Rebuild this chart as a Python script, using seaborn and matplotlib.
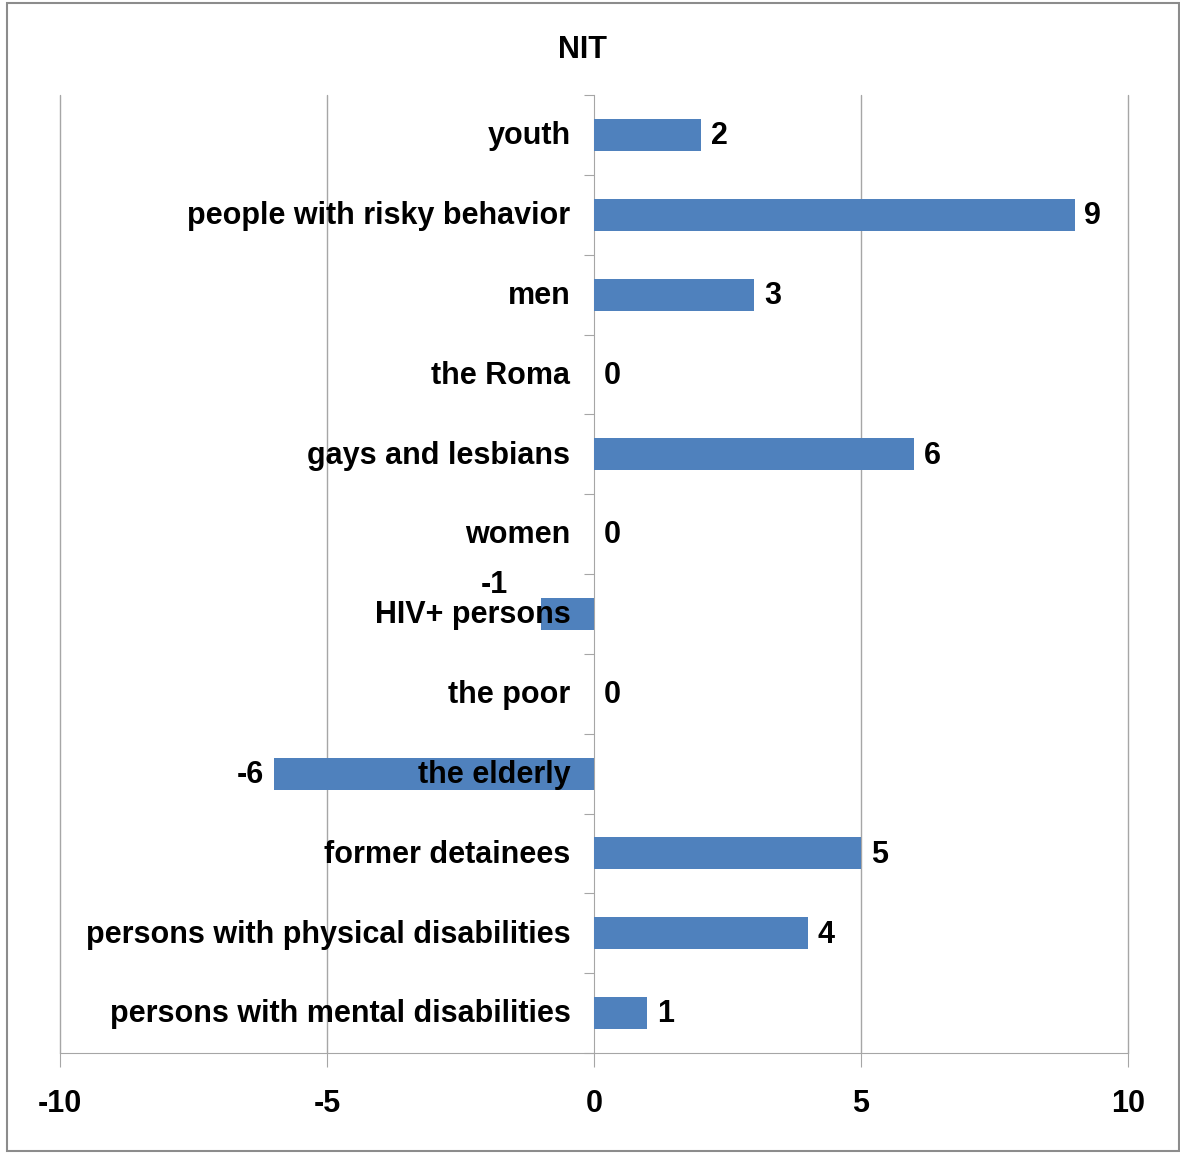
import pandas as pd
import seaborn as sns
import matplotlib.pyplot as plt
from matplotlib.patches import Rectangle

groups = ['youth', 'people with risky behavior', 'men', 'the Roma',
          'gays and lesbians', 'women', 'HIV+ persons', 'the poor',
          'the elderly', 'former detainees',
          'persons with physical disabilities',
          'persons with mental disabilities']
scores = [2, 9, 3, 0, 6, 0, -1, 0, -6, 5, 4, 1]
xticks = [-10, -5, 0, 5, 10]

df = pd.DataFrame({'group': groups, 'score': scores})

sns.set_style('white')
plt.rcParams['font.family'] = ['Liberation Sans', 'DejaVu Sans']
plt.rcParams['font.weight'] = 'bold'
plt.rcParams['text.color'] = 'black'
plt.rcParams['xtick.color'] = 'black'

FS = 22

fig = plt.figure(figsize=(11.8, 11.53), dpi=100)
ax = fig.add_axes([60 / 1180, 1 - 1053 / 1153, 1068 / 1180, (1053 - 95) / 1153])

sns.barplot(data=df, x='score', y='group', order=groups, color='#4F81BD',
            saturation=1, width=0.4, linewidth=0, ax=ax, zorder=3)

ax.set_xlim(-10, 10)
ax.set_ylim(len(groups) - 0.5, -0.5)
ax.set_xticks(xticks)
ax.set_xticklabels([str(t) for t in xticks], fontsize=FS, fontweight='bold',
                   color='black')
for t in [-10, -5, 5, 10]:
    ax.axvline(t, color='#A6A6A6', lw=1, zorder=1, clip_on=False)

# y axis sits at zero, ticks between categories, no tick labels
ax.spines['left'].set_position(('data', 0))
ax.spines['left'].set_color('#A6A6A6')
ax.spines['bottom'].set_color('#A6A6A6')
ax.spines['top'].set_visible(False)
ax.spines['right'].set_visible(False)
ax.set_yticks([i - 0.5 for i in range(len(groups) + 1)])
ax.set_yticklabels([])
ax.tick_params(axis='y', direction='out', length=7, color='#A6A6A6', left=True)
ax.tick_params(axis='x', direction='out', length=10, color='#A6A6A6',
               bottom=True, pad=16, labelcolor='black')
ax.set_xlabel('')
ax.set_ylabel('')

# category names next to the zero axis
for i, g in enumerate(groups):
    ax.annotate(g, xy=(0, i), xytext=(-17, -1), textcoords='offset points',
                ha='right', va='center', fontsize=FS, fontweight='bold',
                color='black', zorder=5)

# value labels
for i, v in enumerate(scores):
    if v == -1:
        ax.annotate(str(v), xy=(-1.87, i - 0.36), ha='center', va='center',
                    fontsize=FS, fontweight='bold', color='black', zorder=5)
    elif v < 0:
        ax.annotate(str(v), xy=(v, i), xytext=(-7, -1),
                    textcoords='offset points', ha='right', va='center',
                    fontsize=FS, fontweight='bold', color='black', zorder=5)
    else:
        ax.annotate(str(v), xy=(v, i), xytext=(7, -1),
                    textcoords='offset points', ha='left', va='center',
                    fontsize=FS, fontweight='bold', color='black', zorder=5)

fig.text(582 / 1180, 1 - 50 / 1153, 'NIT', ha='center', va='center',
         fontsize=FS, fontweight='bold', color='black')

fig.patches.append(Rectangle((7 / 1180, 2 / 1153), 1172 / 1180, 1148 / 1153,
                             transform=fig.transFigure, fill=False,
                             edgecolor='#8C8C8C', lw=1.5))

fig.savefig('out.png', dpi=100)
